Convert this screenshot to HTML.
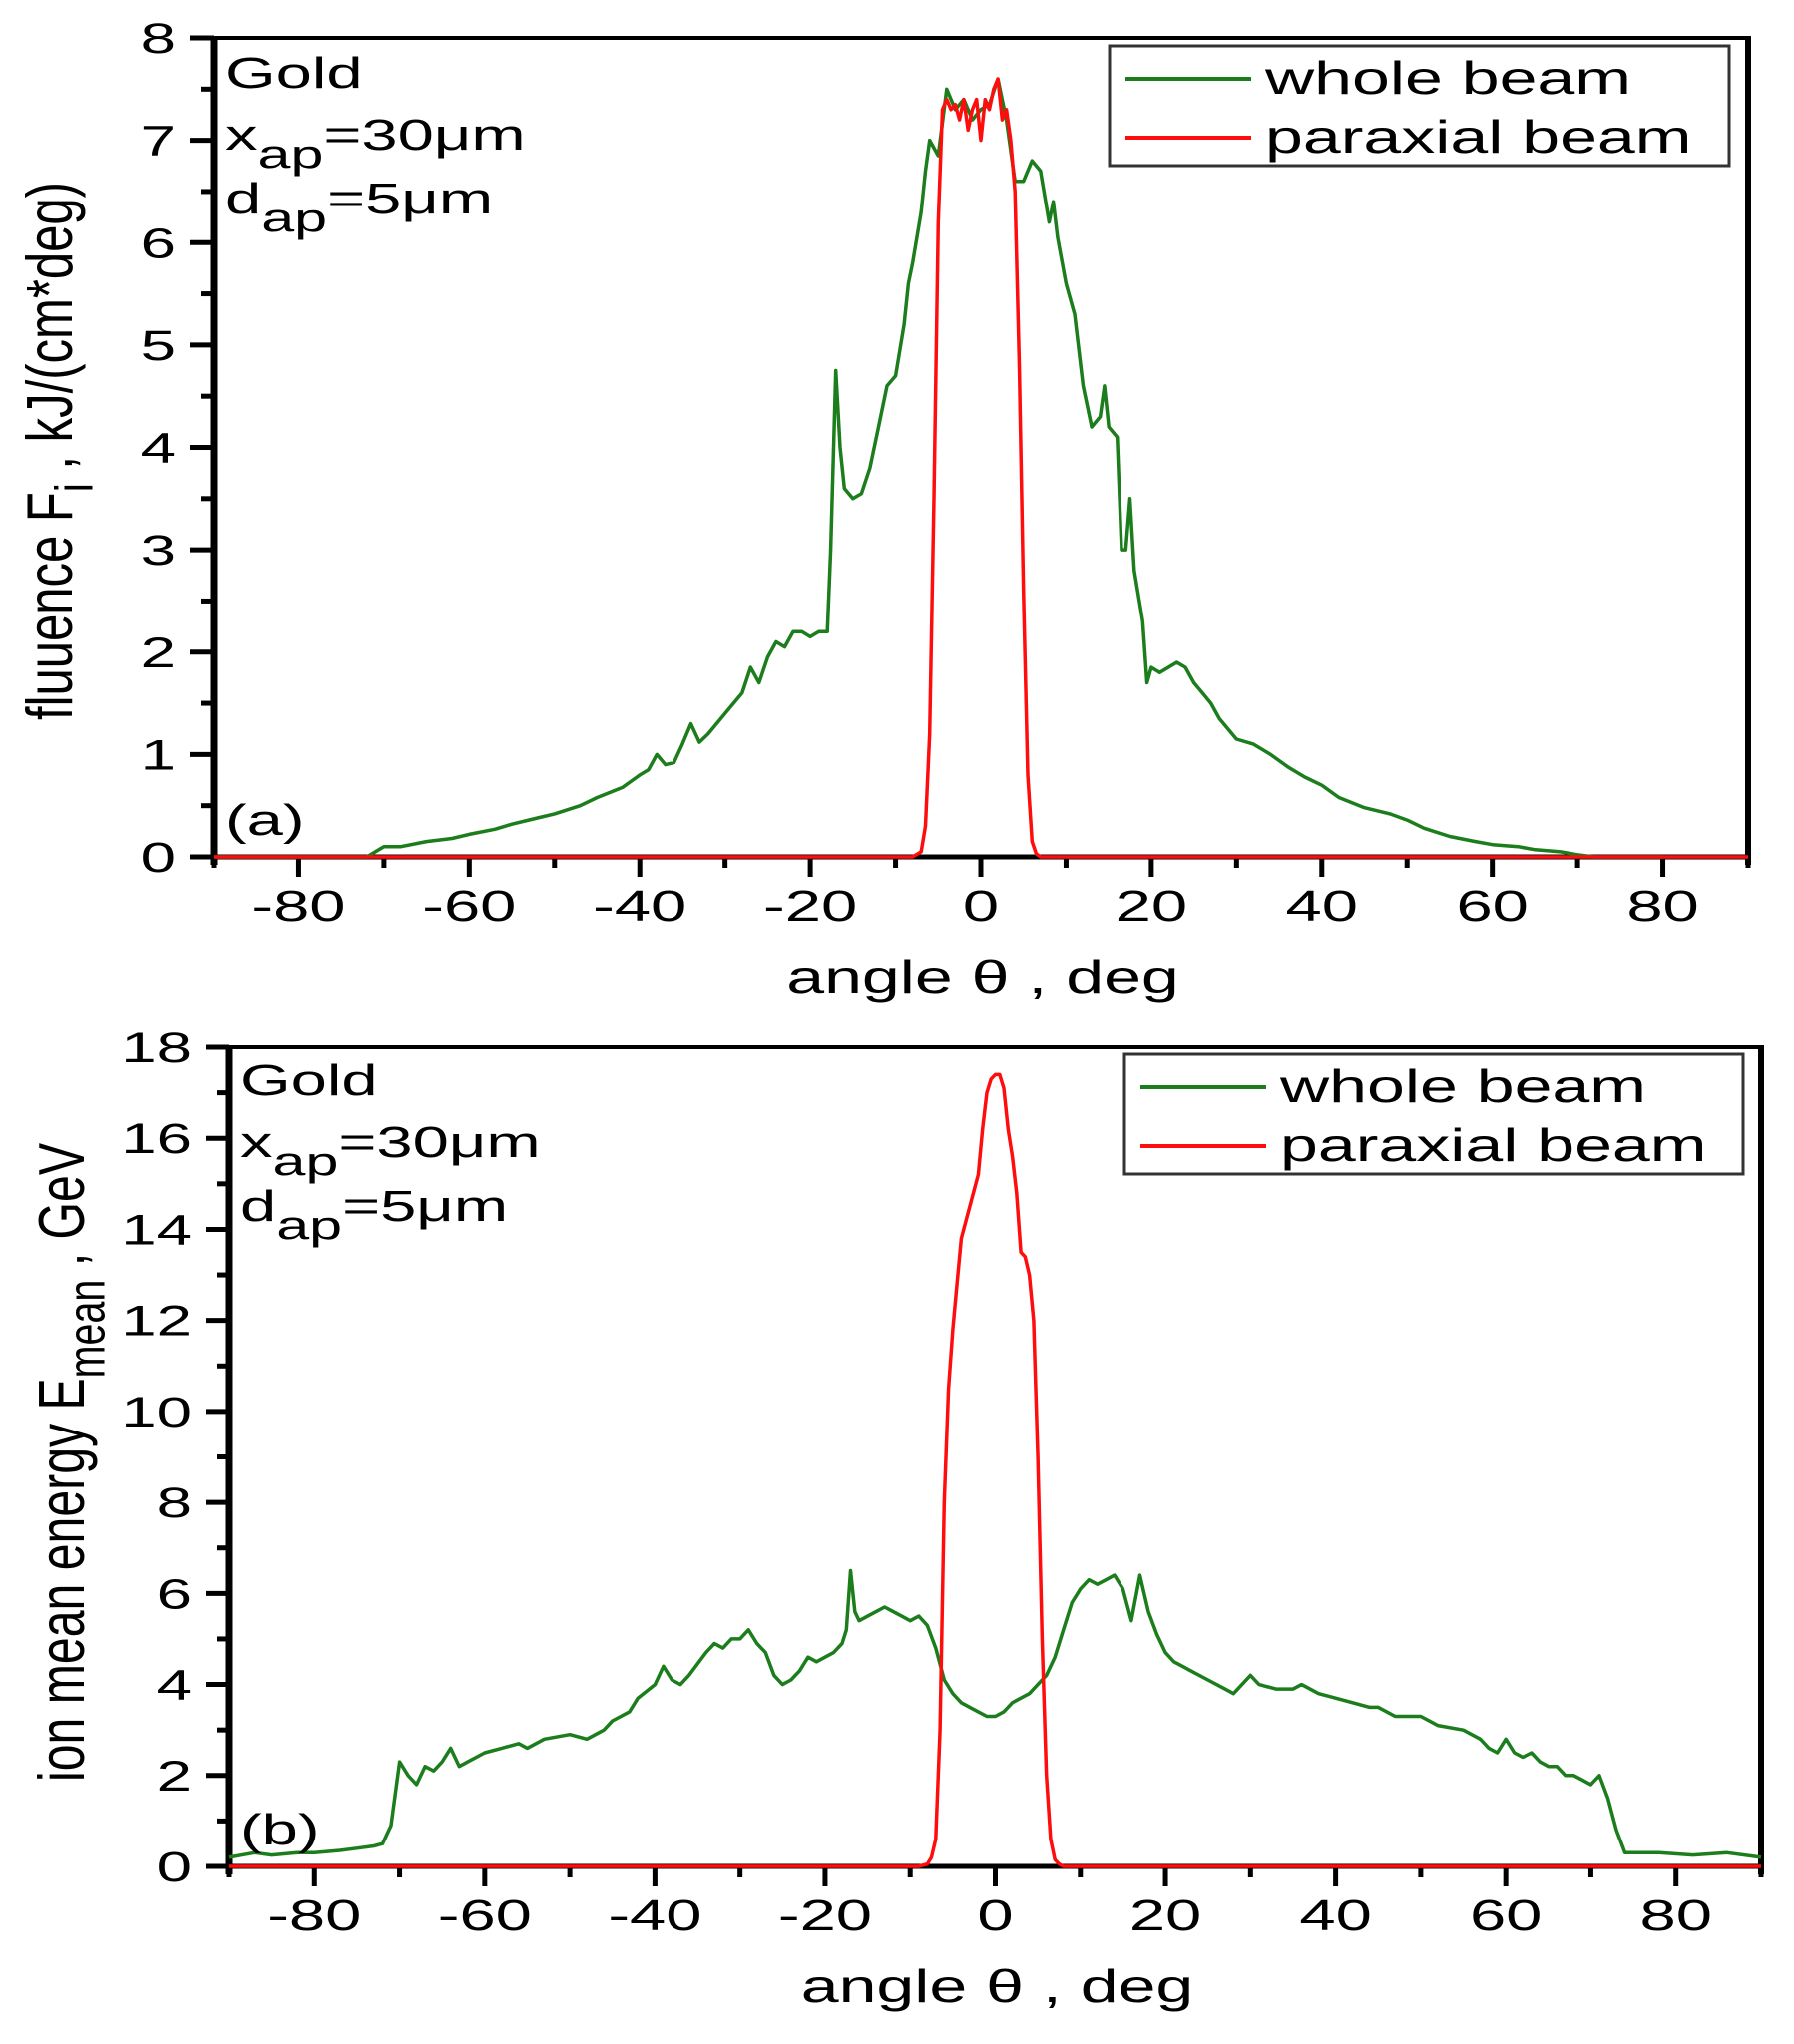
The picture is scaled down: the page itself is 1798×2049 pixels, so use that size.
<!DOCTYPE html>
<html><head><meta charset="utf-8">
<style>
html,body{margin:0;padding:0;background:#fff;}
svg{display:block;font-family:"Liberation Sans",sans-serif;}
</style></head>
<body>
<svg id="fig" width="1798" height="2049" viewBox="0 0 1798 2049" xmlns="http://www.w3.org/2000/svg"></svg>
<script>
// ---- Panel (a) data: fluence ----
const aGreenX = [-90,-72,-70,-68,-65,-62,-60,-57,-55,-52,-50,-47,-45,-42,-40,-39,-38,-37,-36,-35,-34,-33,-32,-30,-28,-27,-26,-25,-24,-23,-22,-21,-20,-19,-18,-17.6,-17,-16.5,-16,-15,-14,-13,-12,-11,-10,-9,-8.5,-8,-7,-6.5,-6,-5,-4,-3,-2,-1,0,1,2,3,4,5,6,7,8,8.5,9,10,11,12,13,14,14.5,15,16,16.5,17,17.5,18,19,19.5,20,21,22,23,24,25,26,27,28,30,32,34,36,38,40,42,45,48,50,52,55,58,60,63,65,68,70,72,73,80,90];
const aGreenY = [0,0,0.1,0.1,0.15,0.18,0.22,0.27,0.32,0.38,0.42,0.5,0.58,0.68,0.8,0.85,1.0,0.9,0.92,1.1,1.3,1.12,1.2,1.4,1.6,1.85,1.7,1.95,2.1,2.05,2.2,2.2,2.15,2.2,2.2,3.0,4.75,4.0,3.6,3.5,3.55,3.8,4.2,4.6,4.7,5.2,5.6,5.8,6.3,6.7,7.0,6.85,7.5,7.3,7.4,7.2,7.3,7.35,7.6,7.2,6.6,6.6,6.8,6.7,6.2,6.4,6.05,5.6,5.3,4.6,4.2,4.3,4.6,4.2,4.1,3.0,3.0,3.5,2.8,2.3,1.7,1.85,1.8,1.85,1.9,1.85,1.7,1.6,1.5,1.35,1.15,1.1,1.0,0.88,0.78,0.7,0.58,0.48,0.42,0.36,0.28,0.2,0.15,0.12,0.1,0.07,0.05,0.02,0,0,0];
const aRedX = [-90,-8,-7,-6.5,-6,-5.5,-5,-4.5,-4,-3.5,-3,-2.5,-2,-1.5,-1,-0.5,0,0.5,1,1.5,2,2.5,3,3.5,4,4.5,5,5.5,6,6.5,7,90];
const aRedY = [0,0,0.05,0.3,1.2,3.5,6.2,7.3,7.4,7.3,7.35,7.2,7.4,7.1,7.3,7.4,7.0,7.4,7.3,7.5,7.6,7.2,7.3,7.0,6.5,4.8,2.6,0.8,0.15,0.03,0,0];
// ---- Panel (b) data: ion mean energy ----
const bGreenX = [-90,-87,-85,-82,-80,-77,-75,-73,-72,-71,-70,-69,-68,-67,-66,-65,-64,-63,-62,-60,-58,-56,-55,-53,-50,-48,-46,-45,-43,-42,-40,-39,-38,-37,-36,-34,-33,-32,-31,-30,-29,-28,-27,-26,-25,-24,-23,-22,-21,-20,-19,-18,-17.5,-17,-16.5,-16,-15,-14,-13,-12,-11,-10,-9,-8,-7,-6,-5,-4,-3,-2,-1,0,1,2,3,4,5,6,7,8,9,10,11,12,13,14,15,16,17,18,19,20,21,22,23,25,27,28,30,31,33,35,36,38,40,42,44,45,47,50,52,55,57,58,59,60,61,62,63,64,65,66,67,68,69,70,71,72,73,74,78,82,86,90];
const bGreenY = [0.2,0.3,0.25,0.3,0.3,0.35,0.4,0.45,0.5,0.9,2.3,2.0,1.8,2.2,2.1,2.3,2.6,2.2,2.3,2.5,2.6,2.7,2.6,2.8,2.9,2.8,3.0,3.2,3.4,3.7,4.0,4.4,4.1,4.0,4.2,4.7,4.9,4.8,5.0,5.0,5.2,4.9,4.7,4.2,4.0,4.1,4.3,4.6,4.5,4.6,4.7,4.9,5.2,6.5,5.6,5.4,5.5,5.6,5.7,5.6,5.5,5.4,5.5,5.3,4.8,4.1,3.8,3.6,3.5,3.4,3.3,3.3,3.4,3.6,3.7,3.8,4.0,4.2,4.6,5.2,5.8,6.1,6.3,6.2,6.3,6.4,6.1,5.4,6.4,5.6,5.1,4.7,4.5,4.4,4.3,4.1,3.9,3.8,4.2,4.0,3.9,3.9,4.0,3.8,3.7,3.6,3.5,3.5,3.3,3.3,3.1,3.0,2.8,2.6,2.5,2.8,2.5,2.4,2.5,2.3,2.2,2.2,2.0,2.0,1.9,1.8,2.0,1.5,0.8,0.3,0.3,0.25,0.3,0.2];
const bRedX = [-90,-9,-8,-7.5,-7,-6.5,-6,-5.5,-5,-4.5,-4,-3,-2,-1.5,-1,-0.5,0,0.5,1,1.5,2,2.5,3,3.5,4,4.5,5,5.5,6,6.5,7,7.5,8,90];
const bRedY = [0,0,0.05,0.2,0.6,3.0,8.0,10.5,11.8,12.8,13.8,14.5,15.2,16.2,17.0,17.3,17.4,17.4,17.1,16.2,15.6,14.8,13.5,13.4,13.0,12.0,9.0,5.0,2.0,0.6,0.15,0.05,0,0];
const yTicksA = [0,1,2,3,4,5,6,7,8];
const yTicksB = [0,2,4,6,8,10,12,14,16,18];
const xTicks = [-80,-60,-40,-20,0,20,40,60,80];

const SX = 1.48; // horizontal text stretch seen in the reference
const NS = "http://www.w3.org/2000/svg";
const svg = document.getElementById('fig');
function el(tag, attrs, parent, text){
  const e = document.createElementNS(NS, tag);
  for (const k in attrs) e.setAttribute(k, attrs[k]);
  if (text !== undefined) e.textContent = text;
  (parent||svg).appendChild(e);
  return e;
}
function txt(x, y, size, anchor, parent, content, html){
  const e = el('text', {transform:`translate(${x},${y}) scale(${SX},1)`, 'font-size':size, 'text-anchor':anchor, fill:'#000'}, parent);
  if (html) e.innerHTML = content; else e.textContent = content;
  return e;
}

function panel(cfg){
  const g = el('g', {});
  
  
  const X = v => cfg.x0 + (v + 90) / 180 * (cfg.x1 - cfg.x0);
  const Y = v => cfg.y0 - v / cfg.ymax * (cfg.y0 - cfg.y1);
  for (let v = -90; v <= 90; v += 10) {
    const major = xTicks.includes(v);
    const t = el('line', {x1:X(v), x2:X(v), y1:cfg.y0, y2:cfg.y0 + (major?20:11), stroke:'#000', 'stroke-width':5}, g);
    
    
  }
  xTicks.forEach(v => {
    const t = txt(X(v), cfg.y0 + 64, 44, 'middle', g, String(v));
    
    
  });
  for (let v = 0; v <= cfg.ymax + 1e-9; v += cfg.yminor) {
    const major = cfg.yticks.some(t => Math.abs(t - v) < 1e-9);
    const t = el('line', {x1:cfg.x0 - (major?24:13), x2:cfg.x0, y1:Y(v), y2:Y(v), stroke:'#000', 'stroke-width':5}, g);
    
    
  }
  cfg.yticks.forEach(v => {
    const t = txt(cfg.x0 - 38, Y(v) + 15, 43, 'end', g, String(v));
    
    
  });
  const top = el('line', {x1:cfg.x0 - 6, x2:cfg.x1, y1:cfg.y1, y2:cfg.y1, stroke:'#000', 'stroke-width':4}, g);
   
  const right = el('line', {x1:cfg.x1, x2:cfg.x1, y1:cfg.y1 - 2, y2:cfg.y0 + 8, stroke:'#000', 'stroke-width':6}, g);
   
  const left = el('line', {x1:cfg.x0, x2:cfg.x0, y1:cfg.y1 - 2, y2:cfg.y0 + 8, stroke:'#000', 'stroke-width':7}, g);
   
  const bottom = el('line', {x1:cfg.x0, x2:cfg.x1, y1:cfg.y0, y2:cfg.y0, stroke:'#000', 'stroke-width':5}, g);
   
  const path = (xs, ys) => xs.map((x,i) => (i?'L':'M') + X(x).toFixed(1) + ' ' + Y(ys[i]).toFixed(1)).join(' ');
  const gl = el('path', {d:path(cfg.gx, cfg.gy), fill:'none', stroke:'#1b7d1b', 'stroke-width':3.5, 'stroke-linejoin':'round'}, g);
   
  const rl = el('path', {d:path(cfg.rx, cfg.ry), fill:'none', stroke:'#ff0d0d', 'stroke-width':3.5, 'stroke-linejoin':'round'}, g);
   
  const xt = txt((cfg.x0 + cfg.x1)/2 + 2, cfg.y0 + 136, 46, 'middle', g, 'angle θ , deg');
   
  const lg = el('g', {}, g);
   
  el('rect', {x:cfg.lx, y:cfg.ly, width:cfg.lw, height:120, fill:'#fff', stroke:'#333', 'stroke-width':3}, lg);
  el('line', {x1:cfg.lx + 16, x2:cfg.lx + 142, y1:cfg.ly + 33, y2:cfg.ly + 33, stroke:'#1b7d1b', 'stroke-width':4}, lg);
  const l1 = txt(cfg.lx + 156, cfg.ly + 48, 46, 'start', lg, 'whole beam');
   
  el('line', {x1:cfg.lx + 16, x2:cfg.lx + 142, y1:cfg.ly + 92, y2:cfg.ly + 92, stroke:'#ff0d0d', 'stroke-width':4}, lg);
  const l2 = txt(cfg.lx + 156, cfg.ly + 107, 46, 'start', lg, 'paraxial beam');
   
  const an = el('g', {}, g);
   
  txt(cfg.ax, cfg.ay, 44, 'start', an, 'Gold');
  txt(cfg.ax, cfg.ay + 62, 44, 'start', an, 'x<tspan dy="18" font-size="40">ap</tspan><tspan dy="-18">=30μm</tspan>', true);
  txt(cfg.ax, cfg.ay + 126, 44, 'start', an, 'd<tspan dy="18" font-size="40">ap</tspan><tspan dy="-18">=5μm</tspan>', true);
  const pl = txt(cfg.ax, cfg.y0 - 22, 44, 'start', g, cfg.label);
   
  const yt = el('text', {transform:`translate(${cfg.ytx},${cfg.ytc}) scale(${SX},1) rotate(-90)`, 'font-size':44, 'text-anchor':'middle', fill:'#000', textLength:cfg.ytl, lengthAdjust:'spacingAndGlyphs'}, g);
  yt.innerHTML = cfg.ytitle;
   
}

panel({name:'panel-a-fluence', x0:214, x1:1752, y0:859, y1:38, ymax:8, yminor:0.5, yticks:yTicksA,
  gx:aGreenX, gy:aGreenY, rx:aRedX, ry:aRedY, lx:1112, ly:46, lw:621,
  ax:226, ay:88, label:'(a)', ytx:72, ytc:452, ytl:540,
  ytitle:'fluuence F<tspan dy="14" font-size="36">i</tspan><tspan dy="-14"> , kJ/(cm*deg)</tspan>'});
panel({name:'panel-b-energy', x0:230, x1:1765, y0:1871, y1:1050, ymax:18, yminor:1, yticks:yTicksB,
  gx:bGreenX, gy:bGreenY, rx:bRedX, ry:bRedY, lx:1127, ly:1057, lw:620,
  ax:241, ay:1098, label:'(b)', ytx:84, ytc:1466, ytl:640,
  ytitle:'ion mean energy E<tspan dy="14" font-size="36">mean</tspan><tspan dy="-14"> , GeV</tspan>'});
</script>
</body></html>
